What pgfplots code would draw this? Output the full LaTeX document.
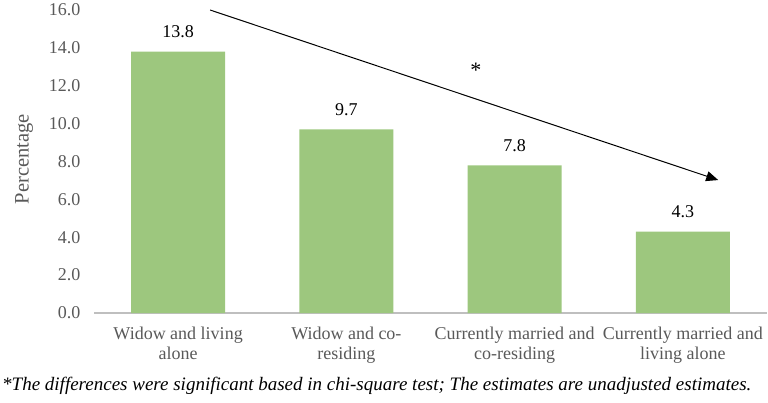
\documentclass[border=0pt]{standalone}
\usepackage{fontspec}
\setmainfont{Liberation Serif}[Ligatures=TeX]
\usepackage{pgfplots}
\pgfplotsset{compat=1.18}
\usetikzlibrary{arrows.meta}
\definecolor{barg}{HTML}{9DC77E}
\definecolor{txtg}{HTML}{595959}
\definecolor{axg}{HTML}{BFBFBF}
\newcommand{\fs}{\fontsize{18}{20}\selectfont}
\begin{document}
\begin{tikzpicture}[x=1pt,y=1pt]
\useasboundingbox (0,0) rectangle (768,402);
\begin{axis}[
  at={(94pt,89pt)}, anchor=south west,
  scale only axis, width=673pt, height=303pt,
  xmin=-0.5, xmax=3.5, ymin=0, ymax=16,
  ytick={0,2,...,16},
  xtick={0,1,2,3},
  xticklabels={{Widow and living\\alone},{Widow and co-\\residing},{Currently married and\\co-residing},{Currently married and\\living alone}},
  axis x line*=bottom, axis y line*=left,
  x axis line style={draw=axg, line width=1.5pt, -},
  y axis line style={draw=none},
  major tick length=0pt,
  tick label style={font=\fs, text=txtg},
  xticklabel style={align=center, yshift=-10pt},
  yticklabel style={anchor=east, xshift=-10pt},
  ylabel={Percentage},
  every axis y label/.style={at={(axis description cs:-0.104,0.508)}, rotate=90, anchor=center, font=\fontsize{20.5}{22}\selectfont, text=txtg},
  /pgf/number format/.cd, fixed, fixed zerofill, precision=1, assume math mode=true,
  /pgfplots/.cd,
  ybar, bar width=94pt,
  nodes near coords,
  nodes near coords style={font=\fs, text=black, anchor=south, yshift=10pt},
  clip=false,
]
\addplot[fill=barg, draw=none] coordinates {(0,13.8) (1,9.7) (2,7.8) (3,4.3)};
\draw[line width=1pt, -{Triangle[length=12pt, width=10pt]}] (axis cs:0.19,16.0) -- (axis cs:3.21,7.02);
\node[font=\fontsize{22}{24}\selectfont] at (axis cs:1.77,12.8) {*};
\end{axis}
\node[anchor=west, font=\fontsize{19}{22}\selectfont\itshape, inner sep=0pt] at (2,16) {*The differences were significant based in chi-square test; The estimates are unadjusted estimates.};
\end{tikzpicture}
\end{document}
